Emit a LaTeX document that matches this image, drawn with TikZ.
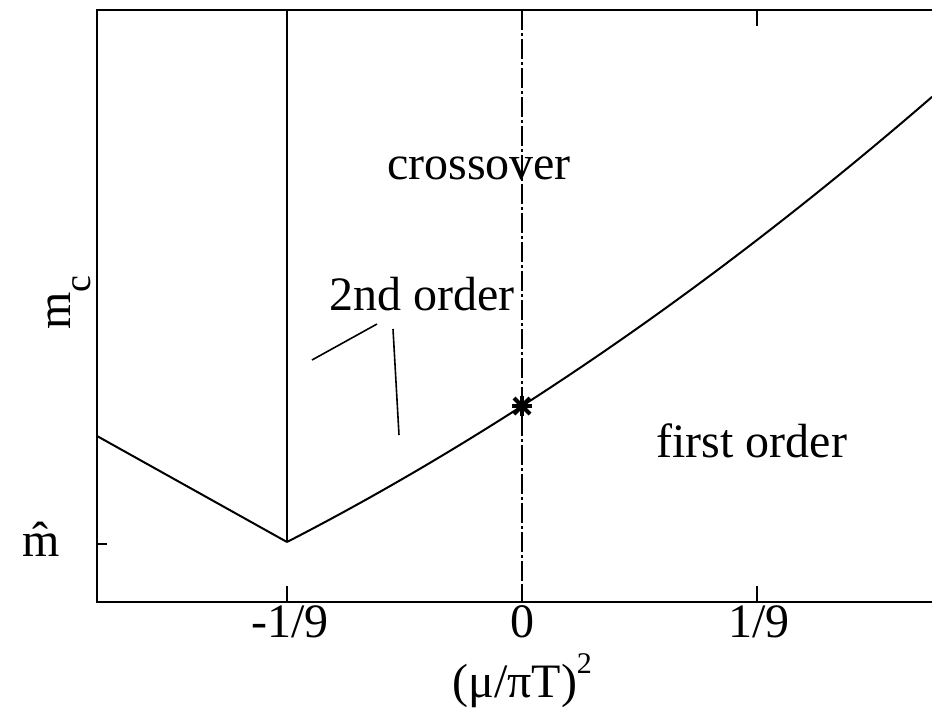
\documentclass[tikz,border=0pt]{standalone}
\usepackage{fontspec}
\setmainfont{Liberation Serif}
\begin{document}
\begin{tikzpicture}[x=0.5pt,y=-0.5pt,
  lbl/.style={inner sep=0pt,font=\fontsize{24}{28}\selectfont},
  frame/.style={line width=1.3pt},
  curve/.style={line width=1pt},
  pointer/.style={line width=0.8pt},
  starline/.style={line width=2pt}]
\useasboundingbox (0,0) rectangle (932,714);
% frame
\draw[frame] (932,10) -- (97,10) -- (97,602) -- (932,602);
% ticks
\foreach \tx in {287,522,757} {
  \draw[frame] (\tx,602) -- (\tx,586);
  \draw[frame] (\tx,10) -- (\tx,26);
}
\draw[frame] (97,544) -- (107,544);
% phase boundaries
\draw[curve] (97,436) -- (287,542);
\draw[line width=1.2pt] (287,542) -- (287,10);
\draw[curve] plot[domain=-1:1.745,samples=60,smooth] ({522+235*\x},{406-151*\x-15*\x*\x});
\draw[line width=1pt,dash pattern=on 10pt off 1.5pt on 1.5pt off 1.5pt] (522,10) -- (522,602);
% critical point
\coordinate (cp) at (522,406);
\draw[starline] ([xshift=-5pt]cp) -- ([xshift=5pt]cp);
\draw[starline] ([yshift=-5pt]cp) -- ([yshift=5pt]cp);
\draw[starline] ([shift={(-4pt,-4pt)}]cp) -- ([shift={(4pt,4pt)}]cp);
\draw[starline] ([shift={(-4pt,4pt)}]cp) -- ([shift={(4pt,-4pt)}]cp);
% region labels
\node[lbl,anchor=base] (cross) at (479,179) {crossover};
\node[lbl,anchor=base west] (second) at (329,310) {2nd order};
\node[lbl,anchor=base west] (first) at (656,457) {first order};
\draw[pointer] (312,360) -- (377,324);
\draw[pointer] (393,329) -- (399,435);
% axis labels
\node[lbl,anchor=base] (mhat) at (41,556) {\^{m}};
\node[lbl,anchor=base west,rotate=90] (mc) at (70,330) {m\raisebox{-10pt}{\fontsize{19}{22}\selectfont c}};
\node[lbl,anchor=base] (tm) at (290,637) {-1/9};
\node[lbl,anchor=base] (t0) at (522,637) {0};
\node[lbl,anchor=base] (tp) at (759,637) {1/9};
\node[lbl,anchor=base west] (xl) at (452,697) {(μ/πT)\raisebox{12pt}{\fontsize{15}{18}\selectfont 2}};
\end{tikzpicture}
\end{document}
